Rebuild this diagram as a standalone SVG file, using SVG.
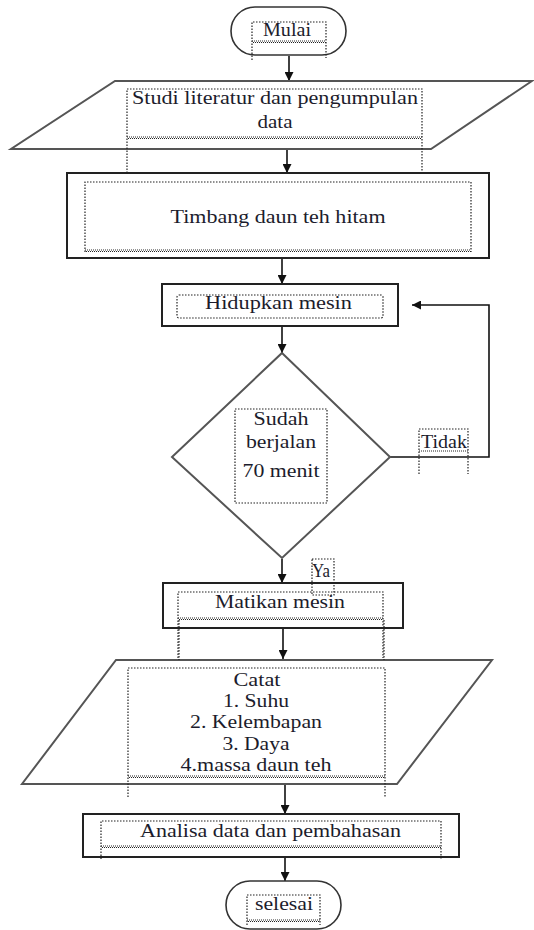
<svg xmlns="http://www.w3.org/2000/svg" width="534" height="930" viewBox="0 0 534 930">
<style>
.bg{fill:#ffffff}
.box{fill:#ffffff;stroke:#222;stroke-width:2}
.term{fill:#ffffff;stroke:#333;stroke-width:1.6}
.gr{fill:#ffffff;stroke:#555;stroke-width:2}
.tb{fill:none;stroke:#222;stroke-width:1.2;stroke-dasharray:1.5 1.5}
.wv{fill:none;stroke:#222;stroke-width:1;stroke-dasharray:1 1}
.wv2{fill:none;stroke:#222;stroke-width:1;stroke-dasharray:1 1;stroke-dashoffset:1}
.t{font-family:"Liberation Serif","DejaVu Serif","Times New Roman",serif;font-size:18px;fill:#1c1c2c;text-anchor:middle}
.cn{fill:none;stroke:#111;stroke-width:1.6}
</style>
<defs>
<marker id="ahl" viewBox="0 0 10 10" refX="10" refY="5" markerWidth="9" markerHeight="9" orient="auto" markerUnits="userSpaceOnUse">
<path d="M0,0 L10,5 L0,10 z" fill="#111"/>
</marker>
</defs>
<rect class="bg" x="0" y="0" width="534" height="930"/>

<g id="connectors">
<line class="cn" x1="289" y1="56" x2="289" y2="81" marker-end="url(#ahl)"/>
<line class="cn" x1="287" y1="150" x2="287" y2="173" marker-end="url(#ahl)"/>
<line class="cn" x1="282" y1="259" x2="282" y2="284" marker-end="url(#ahl)"/>
<line class="cn" x1="282" y1="327" x2="282" y2="353" marker-end="url(#ahl)"/>
<line class="cn" x1="282" y1="559" x2="282" y2="583" marker-end="url(#ahl)"/>
<polyline class="cn" points="390,457 489,457 489,305 412,305" marker-end="url(#ahl)"/>
<line class="cn" x1="283" y1="628" x2="283" y2="659" marker-end="url(#ahl)"/>
<line class="cn" x1="285" y1="784" x2="285" y2="814" marker-end="url(#ahl)"/>
<line class="cn" x1="285" y1="858" x2="285" y2="881" marker-end="url(#ahl)"/>
</g>

<g id="mulai">
<rect class="term" x="231" y="7" width="115" height="48" rx="24" ry="24"/>
<path class="tb" d="M252,60 V22 H326 V58"/>
<line class="wv" x1="252" y1="41" x2="326" y2="41"/>
<line class="wv2" x1="252" y1="42.5" x2="326" y2="42.5"/>
<text class="t" x="287" y="36" textLength="48" lengthAdjust="spacingAndGlyphs">Mulai</text>
</g>

<g id="studi">
<polygon class="gr" points="115,81 532,81 431,149 11,149"/>
<path class="tb" d="M127,182 V89 H422 V182"/>
<line class="wv" x1="127" y1="137" x2="422" y2="137"/>
<line class="wv2" x1="127" y1="138.5" x2="422" y2="138.5"/>
<text class="t" x="275" y="104" textLength="286" lengthAdjust="spacingAndGlyphs">Studi literatur dan pengumpulan</text>
<text class="t" x="275" y="128" textLength="35" lengthAdjust="spacingAndGlyphs">data</text>
</g>

<g id="timbang">
<rect class="box" x="67" y="173" width="422" height="85"/>
<path class="tb" d="M85,252 V182 H471 V252"/>
<line class="wv" x1="85" y1="250" x2="471" y2="250"/>
<line class="wv2" x1="85" y1="251.5" x2="471" y2="251.5"/>
<text class="t" x="278" y="223" textLength="215" lengthAdjust="spacingAndGlyphs">Timbang daun teh hitam</text>
</g>

<g id="hidupkan">
<rect class="box" x="162" y="284" width="236" height="42"/>
<rect class="tb" x="177" y="295" width="206" height="23" rx="2"/>
<text class="t" x="278.5" y="309" textLength="147" lengthAdjust="spacingAndGlyphs">Hidupkan mesin</text>
</g>

<g id="decision">
<polygon class="gr" points="282,353 390,457 282,558 172,457"/>
<rect class="tb" x="235" y="409" width="92" height="94"/>
<text class="t" x="281" y="425" textLength="55" lengthAdjust="spacingAndGlyphs">Sudah</text>
<text class="t" x="281" y="448" textLength="70" lengthAdjust="spacingAndGlyphs">berjalan</text>
<text class="t" x="281" y="477" textLength="77" lengthAdjust="spacingAndGlyphs">70 menit</text>
</g>

<g id="label-tidak">
<path class="tb" d="M419,474 V429 H468 V474"/>
<line class="wv" x1="419" y1="451" x2="468" y2="451"/>
<text class="t" x="444" y="448" textLength="46" lengthAdjust="spacingAndGlyphs">Tidak</text>
</g>

<g id="matikan">
<rect class="box" x="163" y="583" width="240" height="45"/>
<path class="tb" d="M178,658 V592 H383 V658"/>
<line class="wv" x1="178" y1="618" x2="383" y2="618"/>
<line class="wv2" x1="178" y1="619.5" x2="383" y2="619.5"/>
<text class="t" x="280" y="608" textLength="130" lengthAdjust="spacingAndGlyphs">Matikan mesin</text>
</g>

<g id="label-ya">
<rect class="tb" x="312" y="559" width="22" height="36"/>
<text class="t" x="321" y="577" textLength="18" lengthAdjust="spacingAndGlyphs">Ya</text>
</g>

<g id="catat">
<polygon class="gr" points="116,660 492,660 397,784 22,784"/>
<line class="tb" x1="179" y1="620" x2="179" y2="660"/>
<line class="tb" x1="384" y1="620" x2="384" y2="660"/>
<path class="tb" d="M128,797 V668 H385 V797"/>
<line class="wv" x1="128" y1="776" x2="385" y2="776"/>
<line class="wv2" x1="128" y1="777.5" x2="385" y2="777.5"/>
<text class="t" x="257" y="686" textLength="47" lengthAdjust="spacingAndGlyphs">Catat</text>
<text class="t" x="256" y="707" textLength="66" lengthAdjust="spacingAndGlyphs">1. Suhu</text>
<text class="t" x="256" y="728" textLength="132" lengthAdjust="spacingAndGlyphs">2. Kelembapan</text>
<text class="t" x="256" y="750" textLength="67" lengthAdjust="spacingAndGlyphs">3. Daya</text>
<text class="t" x="256" y="771" textLength="151" lengthAdjust="spacingAndGlyphs">4.massa daun teh</text>
</g>

<g id="analisa">
<rect class="box" x="83" y="814" width="376" height="43"/>
<path class="tb" d="M101,859 V821 H441 V859"/>
<line class="wv" x1="101" y1="846" x2="441" y2="846"/>
<line class="wv2" x1="101" y1="847.5" x2="441" y2="847.5"/>
<text class="t" x="270.5" y="837" textLength="261" lengthAdjust="spacingAndGlyphs">Analisa data dan pembahasan</text>
</g>

<g id="selesai">
<rect class="term" x="226" y="881" width="115" height="48" rx="24" ry="24"/>
<path class="tb" d="M247,925 V895 H320 V925"/>
<line class="wv" x1="247" y1="920" x2="320" y2="920"/>
<line class="wv2" x1="247" y1="921.5" x2="320" y2="921.5"/>
<text class="t" x="284" y="910" textLength="58" lengthAdjust="spacingAndGlyphs">selesai</text>
</g>
</svg>
